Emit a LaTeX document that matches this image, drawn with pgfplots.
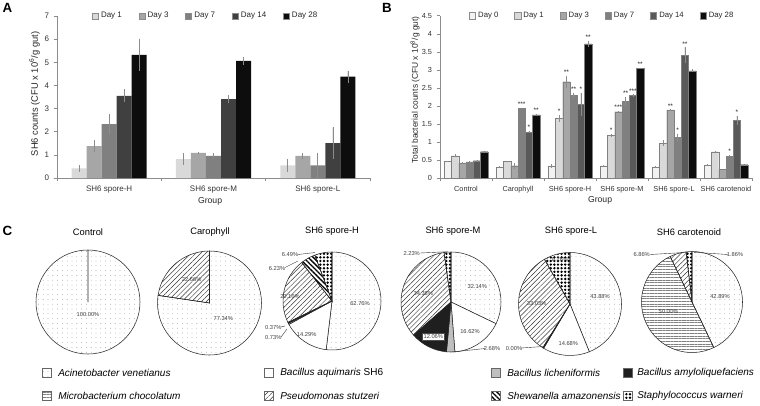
\documentclass[border=0pt]{standalone}
\usepackage{pgfplots}
\pgfplotsset{compat=1.18}
\usepackage{fontspec}
\setmainfont{Liberation Sans}
\usetikzlibrary{patterns,patterns.meta}

\definecolor{gD0}{HTML}{F2F2F2}
\definecolor{gD1}{HTML}{D9D9D9}
\definecolor{gD3}{HTML}{A6A6A6}
\definecolor{gD7}{HTML}{808080}
\definecolor{gDAa}{HTML}{404040}
\definecolor{gDAb}{HTML}{595959}
\definecolor{gD28}{HTML}{0D0D0D}

\tikzset{
  pAcin/.style={pattern={Dots[distance=3.6pt,radius=0.3pt]},pattern color=black!45},
  pMicro/.style={pattern={Lines[angle=0,distance=2pt,line width=0.25pt]},pattern color=black!50},
  pAqui/.style={fill=white},
  pPseu/.style={pattern={Lines[angle=45,distance=2.6pt,line width=0.35pt]},pattern color=black!80},
  pLich/.style={fill=black!25},
  pShew/.style={pattern={Lines[angle=-45,distance=2.6pt,line width=1pt]},pattern color=black},
  pAmyl/.style={fill=black!88},
  pStap/.style={pattern={Dots[distance=2.7pt,radius=1pt]},pattern color=black},
  plab/.style={font=\fontsize{4.3}{5}\selectfont,text=black!75,inner sep=0.5pt},
}
\pgfplotsset{
  ebar/.style={error bars/.cd, y dir=both, y explicit, error mark=none,
    error bar style={draw=black!45,line width=0.5pt}},
  sqlegend/.style={legend image code/.code={\draw[##1,draw=black!45,line width=0.2pt] (0pt,-2.2pt) rectangle (4.6pt,2.4pt);}},
}

% cx cy R startpct pct style   (pixel units, clockwise from 12 o'clock)
\newcommand\pieslice[6]{%
  \filldraw[#6,draw=black!85,line width=0.4pt]
    (axis cs:#1,#2) -- (axis cs:{#1+#3*cos(90-3.6*(#4))},{#2-#3*sin(90-3.6*(#4))})
    arc[start angle={90-3.6*(#4)},end angle={90-3.6*((#4)+(#5))},radius={#3*0.75pt}] -- cycle;}

\begin{document}
\begin{tikzpicture}
\path[use as bounding box] (0pt,0pt) rectangle (570pt,303.75pt);

%================ Panel A =================
\begin{axis}[
  at={(42.75pt,170.25pt)}, anchor=south west,
  scale only axis, width=234.75pt, height=121.5pt,
  xmin=-0.5, xmax=2.5, ymin=0, ymax=7,
  axis x line*=bottom, axis y line*=left,
  axis line style={draw=black!45,line width=0.4pt},
  xtick={0,1,2}, xticklabels={SH6 spore-H,SH6 spore-M,SH6 spore-L},
  xtick style={draw=none},
  extra x ticks={-0.5,0.5,1.5,2.5}, extra x tick labels={},
  extra x tick style={xtick style={draw=black!45,line width=0.4pt}},
  ytick={0,1,...,7}, ytick style={draw=black!45,line width=0.4pt},
  tick align=outside, major tick length=2.5pt,
  ticklabel style={font=\fontsize{6}{7}\selectfont,text=black!80},
  /pgf/number format/assume math mode=true,
  ylabel={SH6 counts (CFU x 10\textsuperscript{6}/g gut)},
  ylabel style={at={(axis description cs:-0.072,0.519)},anchor=center,font=\fontsize{7}{8}\selectfont,text=black!85},
  xlabel={Group},
  xlabel style={at={(axis description cs:0.489,-0.142)},anchor=center,font=\fontsize{6.5}{8}\selectfont,text=black!85},
  legend style={draw=none,fill=none,at={(axis description cs:0.476,1.0)},anchor=center,
    legend columns=-1,font=\fontsize{6}{7}\selectfont,text=black!85,
    /tikz/every even column/.append style={column sep=10.5pt}},
  sqlegend,
  clip=false,
]
\addplot[ybar,bar width=0.144,bar shift=0pt,fill=gD1,draw=none,ebar] coordinates {
  (-0.288,0.42) +- (0,0.14) (0.712,0.82) +- (0,0.27) (1.712,0.55) +- (0,0.28)};
\addplot[ybar,bar width=0.144,bar shift=0pt,fill=gD3,draw=none,ebar] coordinates {
  (-0.144,1.38) +- (0,0.27) (0.856,1.09) +- (0,0.02) (1.856,0.96) +- (0,0.14)};
\addplot[ybar,bar width=0.144,bar shift=0pt,fill=gD7,draw=none,ebar] coordinates {
  (0,2.33) +- (0,0.42) (1,0.96) +- (0,0.13) (2,0.55) +- (0,0.55)};
\addplot[ybar,bar width=0.144,bar shift=0pt,fill=gDAa,draw=none,ebar] coordinates {
  (0.144,3.55) +- (0,0.28) (1.144,3.41) +- (0,0.17) (2.144,1.51) +- (0,0.68)};
\addplot[ybar,bar width=0.144,bar shift=0pt,fill=gD28,draw=none,ebar] coordinates {
  (0.288,5.32) +- (0,0.70) (1.288,5.06) +- (0,0.16) (2.288,4.38) +- (0,0.26)};
\legend{Day 1,Day 3,Day 7,Day 14,Day 28}
\end{axis}

%================ Panel B =================
\begin{axis}[
  at={(330pt,170.25pt)}, anchor=south west,
  scale only axis, width=234pt, height=121.7pt,
  xmin=-0.5, xmax=5.5, ymin=0, ymax=4.5,
  axis x line*=bottom, axis y line*=left,
  axis line style={draw=black!45,line width=0.4pt},
  xtick={0,1,2,3,4,5},
  xticklabels={Control,Carophyll,SH6 spore-H,SH6 spore-M,SH6 spore-L,SH6 carotenoid},
  xtick style={draw=none},
  extra x ticks={-0.5,0.5,1.5,2.5,3.5,4.5,5.5}, extra x tick labels={},
  extra x tick style={xtick style={draw=black!45,line width=0.4pt}},
  ytick={0,0.5,...,4.5}, ytick style={draw=black!45,line width=0.4pt},
  tick align=outside, major tick length=2.5pt,
  ticklabel style={font=\fontsize{5.5}{6.5}\selectfont,text=black!80},
  /pgf/number format/assume math mode=true,
  ylabel={Total bacterial counts (CFU x 10\textsuperscript{8}/g gut)},
  ylabel style={at={(axis description cs:-0.080,0.542)},anchor=center,font=\fontsize{6.3}{7}\selectfont,text=black!85},
  xlabel={Group},
  xlabel style={at={(axis description cs:0.513,-0.136)},anchor=center,font=\fontsize{6.5}{8}\selectfont,text=black!85},
  legend style={draw=none,fill=none,at={(axis description cs:0.521,1.0)},anchor=center,
    legend columns=-1,font=\fontsize{5.8}{7}\selectfont,text=black!85,
    /tikz/every even column/.append style={column sep=10pt}},
  sqlegend,
  clip=false,
]
\addplot[ybar,bar width=0.14,bar shift=0pt,fill=gD0,draw=black!50,line width=0.2pt,ebar] coordinates {
  (-0.35,0.46) +- (0,0.02) (0.65,0.30) +- (0,0.02) (1.65,0.34) +- (0,0.05)
  (2.65,0.34) +- (0,0.03) (3.65,0.31) +- (0,0.03) (4.65,0.35) +- (0,0.03)};
\addplot[ybar,bar width=0.14,bar shift=0pt,fill=gD1,draw=black!50,line width=0.2pt,ebar] coordinates {
  (-0.21,0.62) +- (0,0.05) (0.79,0.46) +- (0,0.02) (1.79,1.65) +- (0,0.10)
  (2.79,1.18) +- (0,0.04) (3.79,0.97) +- (0,0.09) (4.79,0.73) +- (0,0.02)};
\addplot[ybar,bar width=0.14,bar shift=0pt,fill=gD3,draw=black!50,line width=0.2pt,ebar] coordinates {
  (-0.07,0.42) +- (0,0.01) (0.93,0.34) +- (0,0.08) (1.93,2.67) +- (0,0.17)
  (2.93,1.84) +- (0,0.02) (3.93,1.89) +- (0,0.01) (4.93,0.24) +- (0,0.00)};
\addplot[ybar,bar width=0.14,bar shift=0pt,fill=gD7,draw=black!50,line width=0.2pt,ebar] coordinates {
  (0.07,0.45) +- (0,0.01) (1.07,1.93) +- (0,0.02) (2.07,2.29) +- (0,0.07)
  (3.07,2.12) +- (0,0.12) (4.07,1.12) +- (0,0.11) (5.07,0.61) +- (0,0.02)};
\addplot[ybar,bar width=0.14,bar shift=0pt,fill=gDAb,draw=black!50,line width=0.2pt,ebar] coordinates {
  (0.21,0.48) +- (0,0.02) (1.21,1.27) +- (0,0.03) (2.21,2.04) +- (0,0.33)
  (3.21,2.29) +- (0,0.03) (4.21,3.40) +- (0,0.22) (5.21,1.60) +- (0,0.12)};
\addplot[ybar,bar width=0.14,bar shift=0pt,fill=gD28,draw=black!50,line width=0.2pt,ebar] coordinates {
  (0.35,0.73) +- (0,0.03) (1.35,1.75) +- (0,0.02) (2.35,3.72) +- (0,0.08)
  (3.35,3.04) +- (0,0.02) (4.35,2.97) +- (0,0.04) (5.35,0.37) +- (0,0.02)};
\legend{Day 0,Day 1,Day 3,Day 7,Day 14,Day 28}
\addplot[draw=none,mark=none,forget plot,nodes near coords,point meta=explicit symbolic,
  nodes near coords style={font=\fontsize{5}{5}\selectfont,anchor=south,inner sep=0.3pt,yshift=0.5pt,text=black!85}]
  coordinates {
  (1.07,1.95) [***] (1.21,1.30) [*] (1.35,1.77) [**]
  (1.79,1.75) [*] (1.93,2.84) [**] (2.07,2.36) [**] (2.21,2.37) [*] (2.35,3.80) [**]
  (2.79,1.22) [*] (2.93,1.86) [***] (3.07,2.24) [**] (3.21,2.32) [***] (3.35,3.06) [**]
  (3.93,1.90) [**] (4.07,1.23) [*] (4.21,3.62) [**]
  (5.07,0.63) [*] (5.21,1.72) [*]};
\end{axis}

%================ Panel C (pixel overlay) =================
\begin{axis}[
  at={(0pt,0pt)}, anchor=south west,
  scale only axis, width=570pt, height=303.75pt,
  xmin=0, xmax=760, ymin=0, ymax=405, y dir=reverse,
  hide axis, clip=false,
]
\node[font=\bfseries\fontsize{10}{10}\selectfont] at (axis cs:7.5,8) {A};
\node[font=\bfseries\fontsize{10}{10}\selectfont] at (axis cs:387,8) {B};
\node[font=\bfseries\fontsize{10}{10}\selectfont] at (axis cs:7.5,231) {C};
\begin{scope}[every node/.style={font=\fontsize{7}{8}\selectfont}]
\node at (axis cs:88,231.7) {Control};
\node at (axis cs:210,231.7) {Carophyll};
\node at (axis cs:332,231.7) {SH6 spore-H};
\node at (axis cs:453,231.7) {SH6 spore-M};
\node at (axis cs:571,231.7) {SH6 spore-L};
\node at (axis cs:689,231.7) {SH6 carotenoid};
\end{scope}

% Control
\pieslice{88}{302}{52}{0}{100}{pAcin}
% Carophyll
\pieslice{209.5}{303}{52}{0}{77.34}{pAcin}
\pieslice{209.5}{303}{52}{77.34}{22.66}{pPseu}
% SH6 spore-H
\pieslice{332}{301}{49}{0}{51.9}{pAcin}
\pieslice{332}{301}{49}{51.9}{15.2}{pAqui}
\pieslice{332}{301}{49}{67.1}{0.4}{pLich}
\pieslice{332}{301}{49}{67.5}{0.3}{pAmyl}
\pieslice{332}{301}{49}{67.8}{21.6}{pPseu}
\pieslice{332}{301}{49}{89.4}{4.9}{pShew}
\pieslice{332}{301}{49}{94.3}{5.7}{pStap}
% SH6 spore-M
\pieslice{451}{302}{50}{0}{32.14}{pAcin}
\pieslice{451}{302}{50}{32.14}{16.62}{pAqui}
\pieslice{451}{302}{50}{48.76}{2.68}{pLich}
\pieslice{451}{302}{50}{51.44}{12.06}{pAmyl}
\pieslice{451}{302}{50}{63.5}{34.27}{pPseu}
\pieslice{451}{302}{50}{97.77}{2.23}{pStap}
% SH6 spore-L
\pieslice{570}{304}{51.5}{0}{43.88}{pAcin}
\pieslice{570}{304}{51.5}{43.88}{14.68}{pAqui}
\pieslice{570}{304}{51.5}{58.56}{0.3}{pAmyl}
\pieslice{570}{304}{51.5}{58.86}{32.88}{pPseu}
\pieslice{570}{304}{51.5}{91.74}{8.26}{pStap}
% SH6 carotenoid
\pieslice{692}{302}{50.5}{0}{42.89}{pAcin}
\pieslice{692}{302}{50.5}{42.89}{50.0}{pMicro}
\pieslice{692}{302}{50.5}{92.89}{5.25}{pPseu}
\pieslice{692}{302}{50.5}{98.14}{1.86}{pStap}

% pie labels
\node[plab] at (axis cs:88,315) {100.00\%};
\node[plab] at (axis cs:191.7,280) {22.66\%};
\node[plab] at (axis cs:223.3,318.3) {77.34\%};
\node[plab] at (axis cs:290,255) {6.49\%};
\draw[black!80,line width=0.3pt] (axis cs:298,254.5) -- (axis cs:315,252.5);
\node[plab] at (axis cs:277,268.3) {6.23\%};
\draw[black!80,line width=0.3pt] (axis cs:285,267.5) -- (axis cs:298,261);
\node[plab] at (axis cs:290,296.7) {20.16\%};
\node[plab] at (axis cs:360,303.3) {62.76\%};
\node[plab] at (axis cs:306.7,335) {14.29\%};
\node[plab] at (axis cs:273.3,327.3) {0.37\%};
\draw[black!80,line width=0.3pt] (axis cs:281,327) -- (axis cs:285,326);
\node[plab] at (axis cs:273.3,337.3) {0.73\%};
\draw[black!80,line width=0.3pt] (axis cs:281,337) -- (axis cs:287,329);
\node[plab] at (axis cs:411.7,253.3) {2.23\%};
\draw[black!80,line width=0.3pt] (axis cs:420,253) -- (axis cs:448,251.7);
\node[plab] at (axis cs:423.3,293.3) {34.38\%};
\node[plab] at (axis cs:477.3,286.7) {32.14\%};
\node[plab] at (axis cs:470,331.7) {16.62\%};
\node[plab,fill=white,draw=black!70,line width=0.3pt,inner sep=0.8pt] at (axis cs:433.3,336.7) {12.06\%};
\node[plab] at (axis cs:492,348.3) {2.68\%};
\draw[black!80,line width=0.3pt] (axis cs:452,352) -- (axis cs:485,348.5);
\node[plab] at (axis cs:514,348.3) {0.00\%};
\draw[black!80,line width=0.3pt] (axis cs:521,348) -- (axis cs:543,346.5);
\node[plab] at (axis cs:560,260) {8.26\%};
\node[plab] at (axis cs:536.7,303.3) {33.03\%};
\node[plab] at (axis cs:600,296.7) {43.88\%};
\node[plab] at (axis cs:568.3,343.3) {14.68\%};
\node[plab] at (axis cs:641.7,255) {6.86\%};
\draw[black!80,line width=0.3pt] (axis cs:650,254.5) -- (axis cs:688,252.3);
\node[plab] at (axis cs:735,255) {1.86\%};
\draw[black!80,line width=0.3pt] (axis cs:694,252.3) -- (axis cs:728,254.5);
\node[plab] at (axis cs:720,296.7) {42.89\%};
\node[plab] at (axis cs:668.3,311.7) {50.00\%};

% legend C
\begin{scope}[every node/.style={font=\itshape\fontsize{7.5}{8}\selectfont,anchor=west,inner sep=0pt}]
\filldraw[pAcin,draw=black!60,line width=0.3pt] (axis cs:42,368.5) rectangle (axis cs:51,377.5);
\node at (axis cs:58,373) {Acinetobacter venetianus};
\filldraw[pAqui,draw=black!60,line width=0.3pt] (axis cs:264,368.5) rectangle (axis cs:273,377.5);
\node at (axis cs:280,373) {Bacillus aquimaris \upshape SH6};
\filldraw[pLich,draw=black!60,line width=0.3pt] (axis cs:491,368.5) rectangle (axis cs:500,377.5);
\node at (axis cs:507,373) {Bacillus licheniformis};
\filldraw[pAmyl,draw=black!60,line width=0.3pt] (axis cs:623,368.5) rectangle (axis cs:632,377.5);
\node at (axis cs:637,373) {Bacillus amyloliquefaciens};
\filldraw[pMicro,draw=black!60,line width=0.3pt] (axis cs:42,391.5) rectangle (axis cs:51,400.5);
\node at (axis cs:58,396) {Microbacterium chocolatum};
\filldraw[pPseu,draw=black!60,line width=0.3pt] (axis cs:264,391.5) rectangle (axis cs:273,400.5);
\node at (axis cs:280,396) {Pseudomonas stutzeri};
\filldraw[pShew,draw=black!60,line width=0.3pt] (axis cs:491,391.5) rectangle (axis cs:500,400.5);
\node at (axis cs:507,396) {Shewanella amazonensis};
\filldraw[pStap,draw=black!60,line width=0.3pt] (axis cs:623,391.5) rectangle (axis cs:632,400.5);
\node at (axis cs:637,396) {Staphylococcus warneri};
\end{scope}
\end{axis}
\end{tikzpicture}
\end{document}
